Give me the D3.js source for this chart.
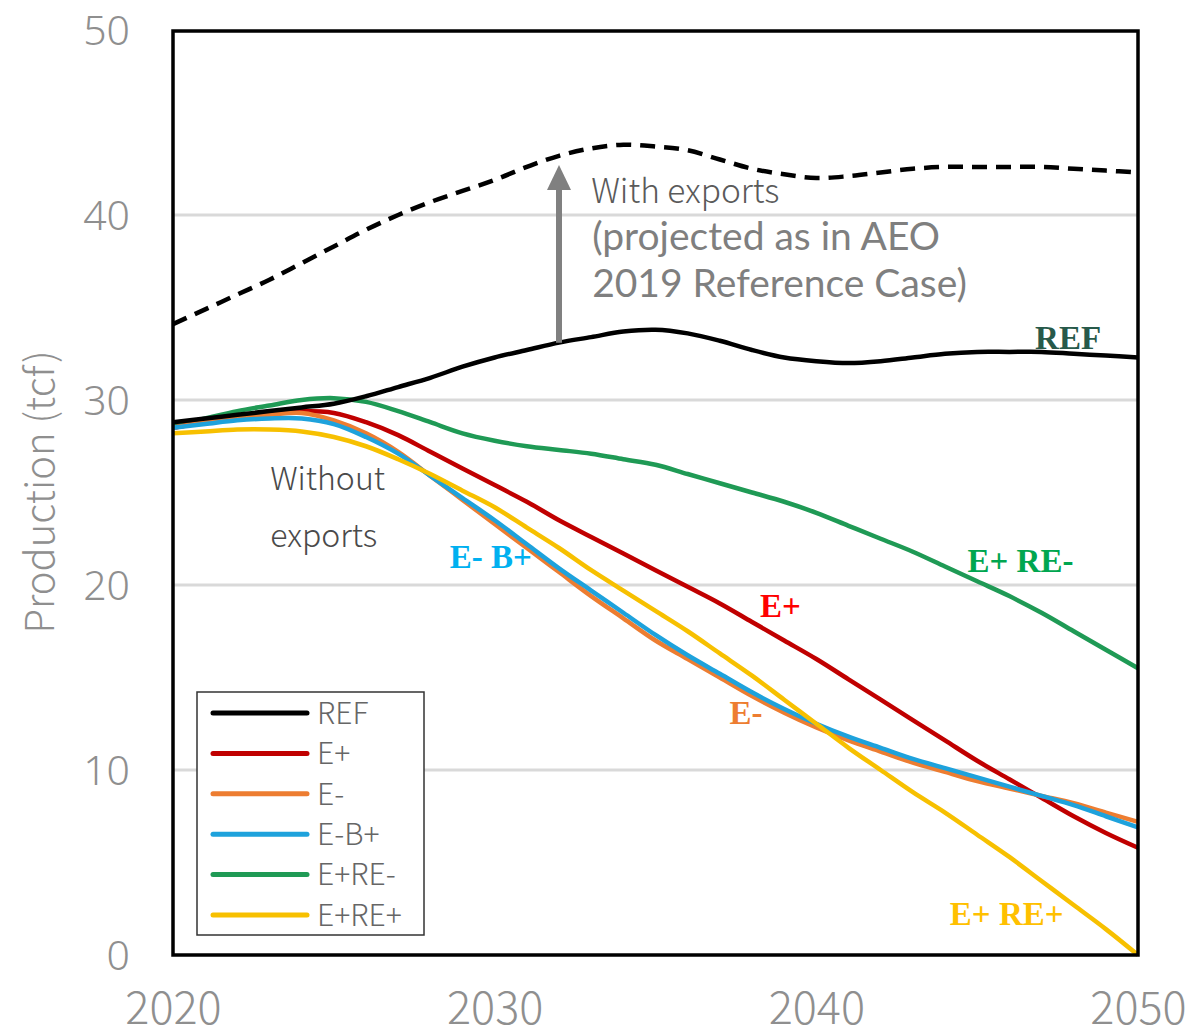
<!DOCTYPE html>
<html>
<head>
<meta charset="utf-8">
<script src="https://cdn.jsdelivr.net/npm/d3@7"></script>
<style>
  html, body { margin: 0; padding: 0; background: #fff; }
  svg { display: block; }
</style>
</head>
<body>
<svg id="chart" width="1187" height="1036"></svg>
<script>
// Natural gas production projections, 2020-2050 (tcf)
const years = d3.range(2020, 2051);

const refWithExports = [34.1, 34.9, 35.7, 36.5, 37.4, 38.3, 39.2, 40.0, 40.7, 41.3,
  41.9, 42.6, 43.2, 43.6, 43.8, 43.7, 43.5, 43.0, 42.5, 42.2,
  42.0, 42.1, 42.3, 42.5, 42.6, 42.6, 42.6, 42.6, 42.5, 42.4, 42.3];

const ref = [28.8, 29.0, 29.2, 29.4, 29.6, 29.8, 30.2, 30.7, 31.2, 31.8,
  32.3, 32.7, 33.1, 33.4, 33.7, 33.8, 33.6, 33.2, 32.7, 32.3,
  32.1, 32.0, 32.1, 32.3, 32.5, 32.6, 32.6, 32.6, 32.5, 32.4, 32.3];

const ePlus = [28.5, 28.8, 29.0, 29.3, 29.4, 29.3, 28.8, 28.1, 27.2, 26.3,
  25.4, 24.5, 23.5, 22.6, 21.7, 20.8, 19.9, 19.0, 18.0, 17.0,
  16.0, 14.9, 13.8, 12.7, 11.6, 10.5, 9.5, 8.5, 7.5, 6.6, 5.8];

const eMinus = [28.5, 28.8, 29.0, 29.2, 29.3, 28.9, 28.2, 27.2, 25.9, 24.6,
  23.3, 22.0, 20.7, 19.4, 18.2, 17.0, 16.0, 15.0, 14.0, 13.1,
  12.3, 11.6, 11.0, 10.4, 9.9, 9.4, 9.0, 8.6, 8.2, 7.7, 7.2];

const eMinusBPlus = [28.5, 28.7, 28.9, 29.0, 29.0, 28.7, 28.0, 27.1, 25.9, 24.7,
  23.5, 22.2, 20.9, 19.7, 18.5, 17.3, 16.2, 15.2, 14.2, 13.3,
  12.5, 11.8, 11.2, 10.6, 10.1, 9.6, 9.1, 8.6, 8.1, 7.5, 6.9];

const ePlusReMinus = [28.6, 29.0, 29.4, 29.7, 30.0, 30.1, 29.9, 29.4, 28.8, 28.2,
  27.8, 27.5, 27.3, 27.1, 26.8, 26.5, 26.0, 25.5, 25.0, 24.5,
  23.9, 23.2, 22.5, 21.8, 21.0, 20.2, 19.4, 18.5, 17.5, 16.5, 15.5];

const ePlusRePlus = [28.2, 28.3, 28.4, 28.4, 28.3, 28.0, 27.5, 26.8, 26.0, 25.1,
  24.2, 23.1, 22.0, 20.8, 19.7, 18.6, 17.5, 16.3, 15.1, 13.8,
  12.5, 11.2, 10.0, 8.8, 7.7, 6.5, 5.3, 4.0, 2.7, 1.4, 0.0];

const seriesNames = ["REF", "E+", "E-", "E-B+", "E+RE-", "E+RE+"];
const seriesValues = [ref, ePlus, eMinus, eMinusBPlus, ePlusReMinus, ePlusRePlus];
const seriesColors = ["#000000", "#c00000", "#ed7d31", "#1ea2dc", "#1f9a55", "#f7c000"];

const yTicks = [0, 10, 20, 30, 40, 50];
const xTicks = [2020, 2030, 2040, 2050];

// Inline scenario labels (anchor year, anchor value)
const inlineLabels = [
  { text: "REF",    color: "#27594a", year: 2046.8, value: 32.76 },
  { text: "E+ RE-", color: "#00a650", year: 2044.7, value: 20.7 },
  { text: "E+",     color: "#ff0000", year: 2038.25, value: 18.27 },
  { text: "E- B+",  color: "#00b0f0", year: 2028.6, value: 20.92 },
  { text: "E-",     color: "#ed7d31", year: 2037.3, value: 12.49 },
  { text: "E+ RE+", color: "#ffc000", year: 2044.15, value: 1.62 }
];

const arrowYear = 2032;
const arrowTop = 42.7;

const svg = d3.select("#chart");
const plotLeft = 173, plotRight = 1138, plotTop = 30, plotBottom = 955;

const x = d3.scaleLinear().domain([2020, 2050]).range([plotLeft, plotRight]);
const y = d3.scaleLinear().domain([0, 50]).range([plotBottom, plotTop]);

const thinFont = "'Noto Sans CJK JP', 'Noto Sans', sans-serif";
const tickFont = "'Noto Sans', sans-serif";
const bodyFont = "Lato, 'Open Sans', 'Liberation Sans', sans-serif";
const serifFont = "'Liberation Serif', 'DejaVu Serif', serif";

// Gridlines
svg.append("g")
  .selectAll("line")
  .data(yTicks.filter(d => d > 0 && d < 50))
  .join("line")
  .attr("x1", plotLeft).attr("x2", plotRight)
  .attr("y1", d => y(d)).attr("y2", d => y(d))
  .attr("stroke", "#d9d9d9").attr("stroke-width", 3);

// Y axis tick labels
const yAxis = d3.axisLeft(y).tickValues(yTicks).tickSize(0).tickPadding(43);
svg.append("g")
  .attr("transform", `translate(${plotLeft},0)`)
  .call(yAxis)
  .call(g => g.select(".domain").remove())
  .call(g => g.selectAll("text")
    .attr("font-family", tickFont).attr("font-weight", 300)
    .attr("font-size", 41).attr("fill", "#8f8f8f").attr("dy", "0.36em"));

// X axis tick labels
const xAxis = d3.axisBottom(x).tickValues(xTicks).tickFormat(d3.format("d")).tickSize(0).tickPadding(37);
svg.append("g")
  .attr("transform", `translate(0,${plotBottom})`)
  .call(xAxis)
  .call(g => g.select(".domain").remove())
  .call(g => g.selectAll("text")
    .attr("font-family", thinFont).attr("font-weight", 300)
    .attr("font-size", 45).attr("fill", "#8f8f8f"));

// Y axis title
svg.append("text")
  .attr("transform", "translate(54,492) rotate(-90)")
  .attr("text-anchor", "middle")
  .attr("font-family", thinFont).attr("font-weight", 300)
  .attr("font-size", 40).attr("fill", "#8f8f8f")
  .text("Production (tcf)");

const line = d3.line()
  .x((d, i) => x(years[i]))
  .y(d => y(d))
  .curve(d3.curveCatmullRom.alpha(0.5));

// Projection with exports (dashed)
svg.append("path")
  .attr("d", line(refWithExports))
  .attr("fill", "none").attr("stroke", "#000")
  .attr("stroke-width", 4.5).attr("stroke-dasharray", "15 9");

// Scenario lines (drawn so REF sits on top)
const order = [4, 1, 2, 3, 5, 0];
svg.append("g")
  .selectAll("path")
  .data(order)
  .join("path")
  .attr("d", i => line(seriesValues[i]))
  .attr("fill", "none")
  .attr("stroke", i => seriesColors[i])
  .attr("stroke-width", 4.5)
  .attr("stroke-linejoin", "round");

// Arrow from REF up to the with-exports curve
const refAtArrow = ref[years.indexOf(arrowYear)];
const ax = x(arrowYear);
const headLen = 25, headHalf = 12;
svg.append("line")
  .attr("x1", ax).attr("x2", ax)
  .attr("y1", y(refAtArrow)).attr("y2", y(arrowTop) + headLen - 2)
  .attr("stroke", "#808080").attr("stroke-width", 6);
svg.append("path")
  .attr("d", `M${ax},${y(arrowTop)} L${ax - headHalf},${y(arrowTop) + headLen} L${ax + headHalf},${y(arrowTop) + headLen} Z`)
  .attr("fill", "#808080");

// Annotations
svg.append("text")
  .attr("x", x(2033.0)).attr("y", 203)
  .attr("font-family", thinFont).attr("font-weight", 300)
  .attr("font-size", 33.5).attr("fill", "#5a5a5a")
  .text("With exports");
svg.append("g")
  .selectAll("text")
  .data(["(projected as in AEO", "2019 Reference Case)"])
  .join("text")
  .attr("x", x(2033.03)).attr("y", (d, i) => 250 + i * 47)
  .attr("font-family", bodyFont)
  .attr("font-size", 39).attr("fill", "#7f7f7f")
  .text(d => d);
svg.append("g")
  .selectAll("text")
  .data(["Without", "exports"])
  .join("text")
  .attr("x", x(2023.02)).attr("y", (d, i) => 490 + i * 57)
  .attr("font-family", thinFont).attr("font-weight", 300)
  .attr("font-size", 32).attr("fill", "#4a4a4a")
  .text(d => d);

// Inline scenario labels
svg.append("g")
  .selectAll("text")
  .data(inlineLabels)
  .join("text")
  .attr("x", d => x(d.year)).attr("y", d => y(d.value))
  .attr("font-family", serifFont).attr("font-weight", "bold")
  .attr("font-size", 33).attr("fill", d => d.color)
  .text(d => d.text);

// Plot frame
svg.append("rect")
  .attr("x", plotLeft).attr("y", y(50) + 1)
  .attr("width", plotRight - plotLeft).attr("height", plotBottom - y(50) - 1)
  .attr("fill", "none").attr("stroke", "#000").attr("stroke-width", 3.5);

// Legend
const lg = svg.append("g").attr("transform", "translate(197,692)");
lg.append("rect")
  .attr("width", 227).attr("height", 243)
  .attr("fill", "#fff").attr("stroke", "#333").attr("stroke-width", 1.5);
const rows = lg.selectAll("g.row")
  .data(seriesNames)
  .join("g")
  .attr("class", "row")
  .attr("transform", (d, i) => `translate(0,${21 + i * 40.4})`);
rows.append("line")
  .attr("x1", 16).attr("x2", 110)
  .attr("stroke", (d, i) => seriesColors[i])
  .attr("stroke-width", 5).attr("stroke-linecap", "round");
rows.append("text")
  .attr("x", 120).attr("dy", "0.36em")
  .attr("font-family", thinFont).attr("font-weight", 300)
  .attr("font-size", 30).attr("fill", "#666")
  .text(d => d);
</script>
</body>
</html>
